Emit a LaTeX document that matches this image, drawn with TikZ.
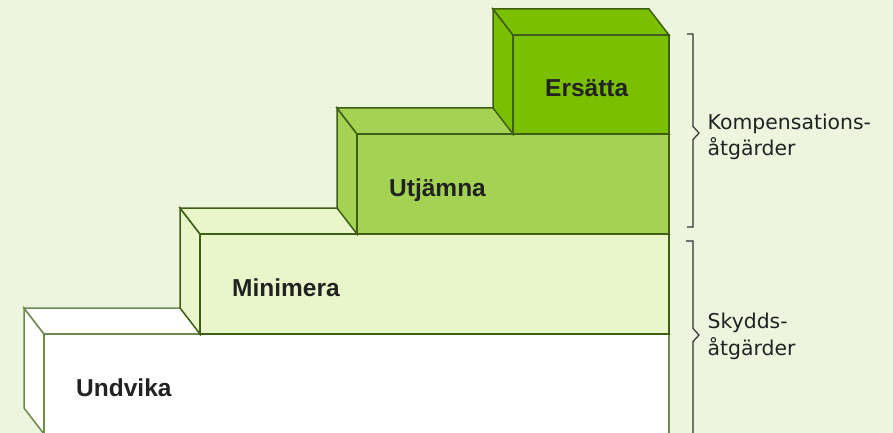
\documentclass[tikz,border=0pt]{standalone}
\usepackage{fontspec}
\setmainfont{Liberation Sans}
\newfontfamily\sidefont{DejaVu Sans}
\definecolor{bg}{HTML}{EDF5DE}
\definecolor{fillA}{HTML}{FFFFFF}
\definecolor{fillB}{HTML}{E9F6C9}
\definecolor{fillC}{HTML}{A4D353}
\definecolor{fillD}{HTML}{7ABF00}
\definecolor{strokeA}{HTML}{6E8A4E}
\definecolor{strokeD}{HTML}{3F5E15}
\definecolor{txt}{HTML}{222222}
\definecolor{bracecol}{HTML}{333333}
% #1 front-left x, #2 top y, #3 bottom y, #4 fill, #5 stroke
\newcommand\stepblock[5]{%
  \filldraw[blockface,fill=#4,draw=#5] (#1-20,#2-26) -- (#1,#2) -- (#1,#3) -- (#1-20,#3-26) -- cycle;
  \filldraw[blockface,fill=#4,draw=#5] (#1-20,#2-26) -- (649,#2-26) -- (669,#2) -- (#1,#2) -- cycle;
  \filldraw[blockface,fill=#4,draw=#5] (#1,#2) rectangle (669,#3);
}
\begin{document}
\begin{tikzpicture}[x=1pt,y=-1pt,
  blockface/.style={line width=1.5pt,line join=miter},
  boxlabel/.style={anchor=base west,inner sep=0pt,text=txt,font=\fontsize{24.5}{28}\selectfont\bfseries},
  sidelabel/.style={anchor=base west,inner sep=0pt,text=txt,font=\sidefont\fontsize{20.4}{26}\selectfont},
  bracestyle/.style={draw=bracecol,line width=1.2pt,line join=miter}]
\useasboundingbox (0,0) rectangle (893,433);
\fill[bg] (0,0) rectangle (893,433);
\begin{scope}
\clip (0,0) rectangle (893,433);
\stepblock{44}{334}{434}{fillA}{strokeA}
\stepblock{200}{234}{334}{fillB}{strokeD}
\stepblock{357}{134}{234}{fillC}{strokeD}
\stepblock{513}{35}{134}{fillD}{strokeD}

\node[boxlabel] (undvika) at (76,396) {Undvika};
\node[boxlabel] (minimera) at (232,296) {Minimera};
\node[boxlabel] (utjamna) at (389,196) {Utjämna};
\node[boxlabel] (ersatta) at (545,96.5) {Ersätta};

% braces
\coordinate (k1) at (687,34);
\coordinate (k2) at (693,34);
\coordinate (k3) at (693,126.5);
\coordinate (k4) at (699,133);
\coordinate (k5) at (693,139.5);
\coordinate (k6) at (693,227);
\coordinate (k7) at (687,227);
\draw[bracestyle] (k1) -- (k2) -- (k3) -- (k4) -- (k5) -- (k6) -- (k7);

\coordinate (s1) at (686,241);
\coordinate (s2) at (693,241);
\coordinate (s3) at (693,328.5);
\coordinate (s4) at (699,335);
\coordinate (s5) at (693,341.5);
\coordinate (s6) at (693,445);
\draw[bracestyle] (s1) -- (s2) -- (s3) -- (s4) -- (s5) -- (s6);

\node[sidelabel] (komp1) at (707.5,129) {Kompensations-};
\node[sidelabel] (komp2) at (707.5,155) {åtgärder};
\node[sidelabel] (skydd1) at (707.5,328.5) {Skydds-};
\node[sidelabel] (skydd2) at (707.5,355) {åtgärder};
\end{scope}
\end{tikzpicture}
\end{document}
